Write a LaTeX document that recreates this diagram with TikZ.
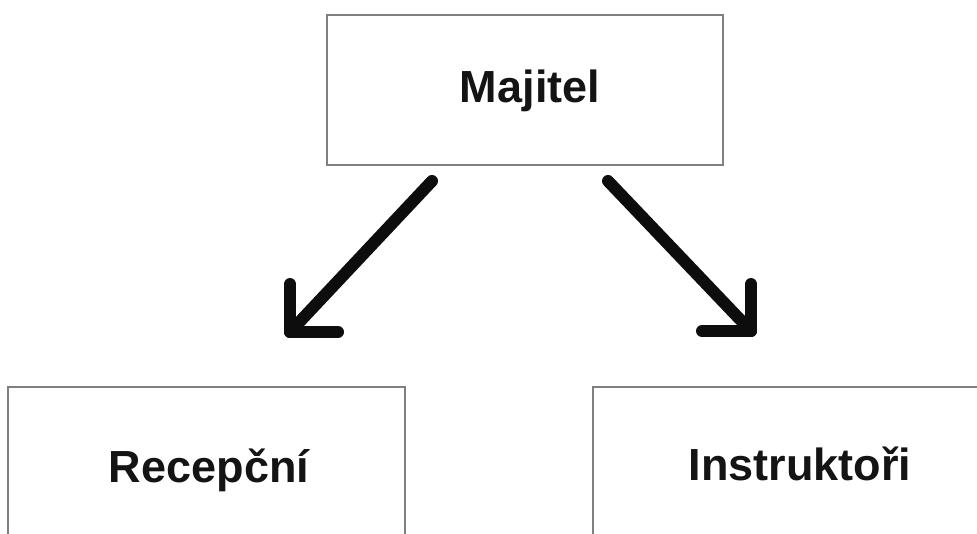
\documentclass[tikz,border=0pt]{standalone}
\usepackage{fontspec}
\setmainfont{Liberation Sans}
\begin{document}
\begin{tikzpicture}[x=1pt,y=-1pt,
  box/.style={draw=black!50,line width=1.3pt,fill=white,minimum width=#1,minimum height=158pt,inner sep=0pt},
  lbl/.style={font=\fontsize{45}{50}\selectfont\bfseries,anchor=base,inner sep=0pt,text=black!92},
  bigarrow/.style={line width=12pt,line cap=round,line join=round,draw=black!95}]
\useasboundingbox (0,0) rectangle (977,533);
\clip (0,0) rectangle (977,533);
\fill[white] (0,0) rectangle (977,533);
\node[box=396pt,minimum height=150pt] (maj) at (525,90) {};
\node[box=397pt] (rec) at (206.5,466) {};
\node[box=397pt] (ins) at (791.5,466) {};
\node[lbl] (tmaj) at (530,102) {Majitel};
\node[lbl] (trec) at (209,482) {Recepční};
\node[lbl] (tins) at (800,480) {Instruktoři};
% left arrow
\coordinate (ls) at (432,181);
\coordinate (lt) at (290,332);
\coordinate (lv) at (290,284);
\coordinate (lh) at (338,332);
\draw[bigarrow] (ls) -- (lt);
\draw[bigarrow] (lv) -- (lt) -- (lh);
% right arrow
\coordinate (rs) at (608,181);
\coordinate (rt) at (751,331);
\coordinate (rv) at (751,284);
\coordinate (rh) at (702,331);
\draw[bigarrow] (rs) -- (rt);
\draw[bigarrow] (rv) -- (rt) -- (rh);
\end{tikzpicture}
\end{document}
